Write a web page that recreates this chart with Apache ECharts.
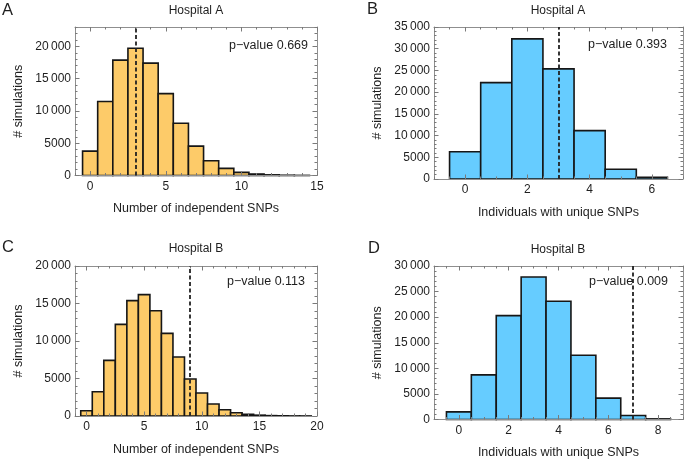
<!DOCTYPE html>
<html>
<head>
<meta charset="utf-8">
<script src="https://cdn.jsdelivr.net/npm/echarts@6/dist/echarts.min.js"></script>
<style>
html,body{margin:0;padding:0;background:#fff;}
#chart{width:685px;height:461px;}
</style>
</head>
<body>
<div id="chart"></div>
<script>
// ---------- data ----------
const binsA = [0,1,2,3,4,5,6,7,8,9,10,11,12,13,14];
const countsA = [3780,11450,17870,19720,17400,12680,8100,4550,2280,1110,490,230,100,40,15];
const binsB = [0,1,2,3,4,5,6];
const countsB = [6290,22190,32260,25350,11130,2230,400];
const binsC = [0,1,2,3,4,5,6,7,8,9,10,11,12,13,14,15,16,17,18,19];
const countsC = [710,3240,7420,12220,15380,16180,14040,11020,7870,4930,3070,1600,840,440,220,110,50,25,10,5];
const binsD = [0,1,2,3,4,5,6,7,8];
const countsD = [1500,8720,20310,27860,23110,12570,4170,780,120];

const xTicksA = [0,5,10,15];
const xTicksB = [0,2,4,6];
const xTicksC = [0,5,10,15,20];
const xTicksD = [0,2,4,6,8];
const yTicksA = [0,5000,10000,15000,20000];
const yTicksB = [0,5000,10000,15000,20000,25000,30000,35000];
const yTicksC = [0,5000,10000,15000,20000];
const yTicksD = [0,5000,10000,15000,20000,25000,30000];

const observed = [3,3,9,7];
const pValues = ['0.669','0.393','0.113','0.009'];
const titles = ['Hospital A','Hospital A','Hospital B','Hospital B'];
const letters = ['A','B','C','D'];
const xNames = ['Number of independent SNPs','Individuals with unique SNPs','Number of independent SNPs','Individuals with unique SNPs'];
const yName = '# simulations';

// ---------- style / layout ----------
const FONT = "'Liberation Sans', Arial, Helvetica, sans-serif";
const TXT = '#1e1e1e';
const FRAME = '#8f8f8f';
const TICK = '#7a7a7a';
const ORANGE = '#fdcb69';
const BLUE = '#66ccff';

const panels = [
  {bins:binsA, counts:countsA, xTicks:xTicksA, yTicks:yTicksA, xmin:-1, xmax:15, ymax:23000, xMinor:1, yMinor:1000, color:ORANGE,
   grid:{left:75, top:27, width:242, height:148.5}, title:[196,11], letter:[2,10.5], pv:[308,45.5]},
  {bins:binsB, counts:countsB, xTicks:xTicksB, yTicks:yTicksB, xmin:-1, xmax:7, ymax:35000, xMinor:0.5, yMinor:1000, color:BLUE,
   grid:{left:434, top:27, width:249, height:152}, title:[558,11], letter:[367,9.5], pv:[667,44.5]},
  {bins:binsC, counts:countsC, xTicks:xTicksC, yTicks:yTicksC, xmin:-1, xmax:20, ymax:20000, xMinor:1, yMinor:1000, color:ORANGE,
   grid:{left:75, top:266, width:242, height:150}, title:[196,249], letter:[2,247.5], pv:[305,282]},
  {bins:binsD, counts:countsD, xTicks:xTicksD, yTicks:yTicksD, xmin:-1, xmax:9, ymax:30000, xMinor:0.5, yMinor:1000, color:BLUE,
   grid:{left:434, top:266, width:249, height:153.5}, title:[558,250], letter:[368,248.5], pv:[668,282]}
];

function steps(a, b, s, exclude) {
  const out = [];
  const n = Math.round((b - a) / s);
  for (let k = 0; k <= n; k++) {
    const v = +(a + k * s).toFixed(6);
    if (exclude.indexOf(v) < 0) out.push(v);
  }
  return out;
}

function fmt(v) {
  const s = String(v);
  return v >= 10000 ? s.slice(0, s.length - 3) + '\u2009' + s.slice(-3) : s;
}

function baseAxis(extra) {
  return Object.assign({
    type: 'value', silent: true, z: 3,
    splitLine: {show: false},
    axisLabel: {show: false},
    axisTick: {show: false},
    axisLine: {show: false, onZero: false}
  }, extra);
}

const grids = [], xAxes = [], yAxes = [], series = [], graphics = [];

panels.forEach((p, i) => {
  grids.push(Object.assign({containLabel: false}, p.grid));
  const xMinorVals = steps(p.xmin, p.xmax, p.xMinor, p.xTicks);
  const yMinorVals = steps(0, p.ymax, p.yMinor, p.yTicks);
  const lineOn = {show: true, onZero: false, lineStyle: {color: FRAME, width: 1}};
  const tk = (vals, len) => ({show: true, inside: true, length: len, customValues: vals, lineStyle: {color: TICK, width: 1}});

  // x axes: bottom major (labels), bottom minor, top major, top minor
  xAxes.push(baseAxis({
    gridIndex: i, position: 'bottom', min: p.xmin, max: p.xmax,
    axisLine: lineOn, axisTick: tk(p.xTicks, 4.5),
    axisLabel: {show: true, customValues: p.xTicks, margin: 5, color: TXT, fontSize: 12, fontFamily: FONT},
    name: xNames[i], nameLocation: 'middle', nameGap: 27,
    nameTextStyle: {color: TXT, fontSize: 12.5, fontFamily: FONT}
  }));
  xAxes.push(baseAxis({gridIndex: i, position: 'bottom', min: p.xmin, max: p.xmax, axisTick: tk(xMinorVals, 2.5)}));
  xAxes.push(baseAxis({gridIndex: i, position: 'top', min: p.xmin, max: p.xmax, axisLine: lineOn, axisTick: tk(p.xTicks, 4.5)}));
  xAxes.push(baseAxis({gridIndex: i, position: 'top', min: p.xmin, max: p.xmax, axisTick: tk(xMinorVals, 2.5)}));

  // y axes: left major (labels), left minor, right major, right minor
  yAxes.push(baseAxis({
    gridIndex: i, position: 'left', min: 0, max: p.ymax,
    axisLine: lineOn, axisTick: tk(p.yTicks, 4.5),
    axisLabel: {show: true, customValues: p.yTicks, margin: 4, color: TXT, fontSize: 12, fontFamily: FONT, formatter: fmt},
    name: yName, nameLocation: 'middle', nameGap: 50,
    nameTextStyle: {color: TXT, fontSize: 12.5, fontFamily: FONT}
  }));
  yAxes.push(baseAxis({gridIndex: i, position: 'left', min: 0, max: p.ymax, axisTick: tk(yMinorVals, 2.5)}));
  yAxes.push(baseAxis({gridIndex: i, position: 'right', min: 0, max: p.ymax, axisLine: lineOn, axisTick: tk(p.yTicks, 4.5)}));
  yAxes.push(baseAxis({gridIndex: i, position: 'right', min: 0, max: p.ymax, axisTick: tk(yMinorVals, 2.5)}));

  const color = p.color;
  series.push({
    type: 'custom',
    coordinateSystem: 'cartesian2d',
    xAxisIndex: 4 * i, yAxisIndex: 4 * i,
    z: 2,
    silent: true,
    data: p.bins.map((b, k) => [b, p.counts[k]]),
    renderItem: function (params, api) {
      const x = api.value(0), y = api.value(1);
      const p0 = api.coord([x - 0.5, y]);
      const p1 = api.coord([x + 0.5, 0]);
      return {
        type: 'rect',
        shape: {x: p0[0], y: p0[1], width: p1[0] - p0[0], height: p1[1] - p0[1]},
        style: {fill: color, stroke: '#161616', lineWidth: 1.6}
      };
    },
    markLine: {
      silent: true, symbol: ['none', 'none'], animation: false,
      label: {show: false},
      lineStyle: {type: [4, 2.5], color: '#222', width: 1.8},
      data: [{xAxis: observed[i]}]
    }
  });

  const txt = (x, y, text, size, align, extra) => ({
    type: 'text', x: x, y: y, z: 10, silent: true,
    style: Object.assign({
      text: text, fontSize: size, fontFamily: FONT, fill: TXT,
      align: align, textAlign: align, verticalAlign: 'middle', textVerticalAlign: 'middle'
    }, extra || {})
  });
  graphics.push(txt(p.title[0], p.title[1], titles[i], 12, 'center'));
  graphics.push(txt(p.letter[0], p.letter[1], letters[i], 16.5, 'left'));
  graphics.push(txt(p.pv[0], p.pv[1], 'p\u2212value ' + pValues[i], 12.5, 'right'));
});

const chart = echarts.init(document.getElementById('chart'), null, {renderer: 'canvas'});
chart.setOption({
  animation: false,
  backgroundColor: '#fff',
  grid: grids,
  xAxis: xAxes,
  yAxis: yAxes,
  series: series,
  graphic: graphics
});
</script>
</body>
</html>
